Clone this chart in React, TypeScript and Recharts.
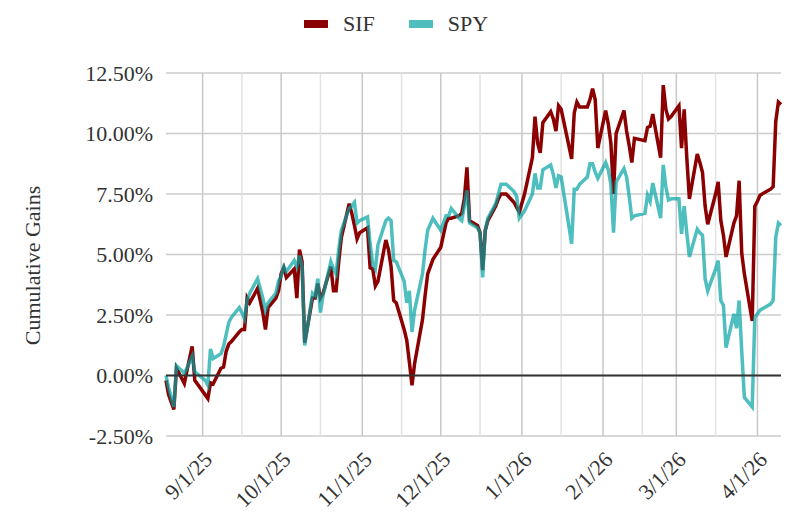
import React from 'react';
import { LineChart, Line, XAxis, YAxis, CartesianGrid, ReferenceLine } from 'recharts';

const FONT = "'Liberation Serif', 'Times New Roman', serif";
const TEXT = '#333333';
const SIF_COLOR = '#8b0000';
const SPY_COLOR = '#03a3a3';

// trading days
const DATES = [
  '8/18/25', '8/19/25', '8/20/25', '8/21/25', '8/22/25', '8/25/25', '8/26/25', '8/27/25', '8/28/25', '8/29/25',
  '9/2/25', '9/3/25', '9/4/25', '9/5/25', '9/8/25', '9/9/25', '9/10/25', '9/11/25', '9/12/25',
  '9/15/25', '9/16/25', '9/17/25', '9/18/25', '9/19/25', '9/22/25', '9/23/25', '9/24/25', '9/25/25', '9/26/25',
  '9/29/25', '9/30/25',
  '10/1/25', '10/2/25', '10/3/25', '10/6/25', '10/7/25', '10/8/25', '10/9/25', '10/10/25',
  '10/13/25', '10/14/25', '10/15/25', '10/16/25', '10/17/25', '10/20/25', '10/21/25', '10/22/25', '10/23/25', '10/24/25',
  '10/27/25', '10/28/25', '10/29/25', '10/30/25', '10/31/25',
  '11/3/25', '11/4/25', '11/5/25', '11/6/25', '11/7/25', '11/10/25', '11/11/25', '11/12/25', '11/13/25', '11/14/25',
  '11/17/25', '11/18/25', '11/19/25', '11/20/25', '11/21/25', '11/24/25', '11/25/25', '11/26/25', '11/28/25',
  '12/1/25', '12/2/25', '12/3/25', '12/4/25', '12/5/25', '12/8/25', '12/9/25', '12/10/25', '12/11/25', '12/12/25',
  '12/15/25', '12/16/25', '12/17/25', '12/18/25', '12/19/25', '12/22/25', '12/23/25', '12/24/25', '12/26/25',
  '12/29/25', '12/30/25', '12/31/25',
  '1/2/26', '1/5/26', '1/6/26', '1/7/26', '1/8/26', '1/9/26', '1/12/26', '1/13/26', '1/14/26', '1/15/26', '1/16/26',
  '1/20/26', '1/21/26', '1/22/26', '1/23/26', '1/26/26', '1/27/26', '1/28/26', '1/29/26', '1/30/26',
  '2/2/26', '2/3/26', '2/4/26', '2/5/26', '2/6/26', '2/9/26', '2/10/26', '2/11/26', '2/12/26', '2/13/26',
  '2/17/26', '2/18/26', '2/19/26', '2/20/26', '2/23/26', '2/24/26', '2/25/26', '2/26/26', '2/27/26',
  '3/2/26', '3/3/26', '3/4/26', '3/5/26', '3/6/26', '3/9/26', '3/10/26', '3/11/26', '3/12/26', '3/13/26',
  '3/16/26', '3/17/26', '3/18/26', '3/19/26', '3/20/26', '3/23/26', '3/24/26', '3/25/26', '3/26/26', '3/27/26',
  '3/30/26', '3/31/26', '4/1/26', '4/2/26', '4/6/26', '4/7/26', '4/8/26', '4/9/26', '4/10/26',
];

// cumulative gains, %
const SIF = [
  -0.2, -0.8, -1.1, -1.4, 0.3, -0.33, 0.2, 0.7, 1.2, -0.2,
  -0.8, -0.95, -0.3, -0.35, 0.3, 0.35, 1.0, 1.3, 1.4,
  1.8, 1.9, 1.9, 3.2, 3.0, 3.6, 3.1, 2.6, 1.9, 2.8,
  3.2, 3.5,
  4.2, 4.45, 4.05, 4.4, 3.2, 5.2, 4.7, 1.36,
  3.2, 3.2, 3.8, 3.2, 3.4, 4.5, 3.5, 3.5, 4.7, 5.7,
  7.1, 6.7, 6.2, 5.65, 5.9,
  6.1, 4.45, 4.4, 3.7, 3.9, 5.6, 5.2, 4.5, 3.1, 3.0,
  1.9, 1.45, 0.55, -0.4, 0.5, 2.3, 3.3, 4.2, 4.8,
  5.3, 5.8, 6.3, 6.5, 6.5, 6.6, 6.7, 7.3, 8.6, 6.4,
  6.2, 5.9, 4.35, 6.0, 6.4, 7.0, 7.3, 7.5, 7.5,
  7.15, 6.95, 6.75,
  7.5, 9.0, 10.7, 9.6, 9.2, 10.45, 10.9, 10.6, 10.1, 11.15, 11.0,
  8.95, 10.85, 11.3, 11.1, 11.1, 11.4, 11.85, 11.4, 9.4,
  10.95, 10.4, 9.6, 7.5, 10.0, 10.95, 10.1, 9.5, 8.8, 9.8,
  9.7, 10.25, 10.3, 10.8, 9.0, 12.0, 11.0, 10.6, 10.7,
  11.15, 9.4, 11.0, 9.0, 7.3, 9.15, 8.8, 8.4, 7.0, 6.25,
  7.5, 8.0, 6.4, 5.8, 4.9, 6.3, 6.6, 8.05, 5.05, 4.2,
  2.25, 7.0, 7.2, 7.45, 7.7, 7.8, 10.5, 11.3, 11.2,
];

const SPY = [
  0.0, -0.5, -0.9, -1.3, 0.4, 0.1, 0.3, 0.55, 0.8, 0.15,
  -0.2, -0.4, 1.1, 0.7, 0.9, 1.2, 1.7, 2.2, 2.4,
  2.8, 2.6, 2.35, 3.1, 3.4, 4.0, 3.6, 3.2, 2.7, 3.0,
  3.4, 3.9,
  4.1, 4.5, 4.3, 4.75, 4.5, 4.95, 4.5, 1.24,
  3.4, 3.3, 4.0, 2.6, 3.3, 4.7, 4.4, 4.2, 5.2, 6.0,
  6.9, 7.0, 7.15, 6.3, 6.4,
  6.55, 5.45, 4.6, 4.4, 5.4, 6.4, 6.5, 6.4, 4.75, 4.7,
  3.9, 3.0, 3.5, 1.8, 2.7, 4.2, 5.2, 6.0, 6.5,
  6.0, 6.3, 6.6, 6.6, 6.9, 6.5, 6.4, 7.0, 7.65, 6.3,
  6.1, 5.9, 4.05, 6.0, 6.5, 7.1, 7.5, 7.9, 7.9,
  7.6, 7.4, 6.5,
  6.8, 7.5, 8.35, 7.75, 7.75, 8.5, 8.7, 8.3, 7.75, 8.25, 8.2,
  5.45, 7.7, 7.7, 7.9, 8.2, 8.75, 8.75, 8.4, 8.15,
  8.8, 8.5, 7.9, 5.9, 8.0, 8.55, 8.2, 7.4, 6.5, 6.6,
  6.7, 7.45, 7.2, 7.95, 6.5, 8.7, 7.8, 7.25, 7.3,
  7.3, 5.85, 7.0, 5.9, 4.9, 6.05, 5.9, 5.8, 4.0, 3.5,
  4.4, 4.75, 3.1, 2.9, 1.15, 2.55, 1.95, 3.1, 1.0, -0.9,
  -1.3, 2.4, 2.55, 2.7, 2.95, 3.1, 5.7, 6.3, 6.2,
];

const MONTH_TICKS = ['9/1/25', '10/1/25', '11/1/25', '12/1/25', '1/1/26', '2/1/26', '3/1/26', '4/1/26'];
const MID_MONTHS = ['9/16/25', '10/16/25', '11/16/25', '12/16/25', '1/16/26', '2/16/26', '3/16/26'];
const Y_TICKS = [-2.5, 0, 2.5, 5, 7.5, 10, 12.5];

const toTime = (s: string) => {
  const [m, d, y] = s.split('/').map(Number);
  return Date.UTC(2000 + y, m - 1, d);
};
const T0 = toTime(DATES[0]);
const toDay = (s: string) => Math.round((toTime(s) - T0) / 86400000);

const data = DATES.map((d, i) => ({ day: toDay(d), sif: SIF[i], spy: SPY[i] }));
const monthDays = MONTH_TICKS.map(toDay);
const midDays = MID_MONTHS.map(toDay);
const lastDay = toDay(DATES[DATES.length - 1]);

const labelOf = (day: number) => MONTH_TICKS[monthDays.indexOf(day)] ?? '';

// vertical grid positions through the x scale
const gridAt = (days: number[]) => ({ xAxis, offset }: any) =>
  days.map((d) =>
    xAxis && typeof xAxis.scale === 'function'
      ? xAxis.scale(d)
      : offset.left + (d / lastDay) * offset.width
  );

const DateTick = ({ x, y, payload }: any) => (
  <text
    transform={`translate(${x + 11},${y + 25}) rotate(-45)`}
    textAnchor="end"
    fill={TEXT}
    fontSize={22}
    fontFamily={FONT}
  >
    {labelOf(payload.value)}
  </text>
);

const AxisTitle = ({ viewBox }: any) => {
  const cy = viewBox.y + viewBox.height / 2 + 11;
  return (
    <text
      x={32}
      y={cy}
      transform={`rotate(-90 32 ${cy})`}
      textAnchor="middle"
      dominantBaseline="central"
      fill={TEXT}
      fontSize={22}
      fontFamily={FONT}
    >
      Cumulative Gains
    </text>
  );
};

const LegendItem = ({ color, opacity, label, gap }: any) => (
  <div style={{ display: 'flex', alignItems: 'center', marginRight: gap }}>
    <div style={{ width: 24, height: 8, background: color, opacity, marginRight: 15 }} />
    <span>{label}</span>
  </div>
);

export default function App() {
  return (
    <div style={{ position: 'absolute', left: 0, top: 0, width: 798, height: 521, background: '#fff', fontFamily: FONT }}>
      <div
        style={{
          position: 'absolute',
          left: 304,
          top: 13,
          height: 22,
          display: 'flex',
          alignItems: 'center',
          fontSize: 22,
          lineHeight: '22px',
          color: TEXT,
        }}
      >
        <LegendItem color={SIF_COLOR} opacity={1} label="SIF" gap={34} />
        <LegendItem color={SPY_COLOR} opacity={0.7} label="SPY" gap={0} />
      </div>
      <LineChart width={798} height={521} data={data} margin={{ top: 73, right: 17, bottom: 0, left: 0 }}>
        <CartesianGrid horizontal vertical={false} stroke="#cccccc" strokeWidth={1.3} />
        <CartesianGrid
          horizontal={false}
          vertical
          stroke="#e3e3e3"
          strokeWidth={1.5}
          verticalCoordinatesGenerator={gridAt(midDays)}
        />
        <CartesianGrid
          horizontal={false}
          vertical
          stroke="#c8c8c8"
          strokeWidth={1.5}
          verticalCoordinatesGenerator={gridAt(monthDays)}
        />
        <XAxis
          type="number"
          dataKey="day"
          domain={[0, lastDay]}
          ticks={monthDays}
          interval={0}
          height={85}
          axisLine={false}
          tickLine={false}
          tickSize={0}
          tickMargin={0}
          tick={<DateTick />}
        />
        <YAxis
          type="number"
          domain={[-2.5, 12.5]}
          ticks={Y_TICKS}
          interval={0}
          width={166}
          axisLine={false}
          tickLine={false}
          tickSize={0}
          tickMargin={13}
          tickFormatter={(v: number) => `${v.toFixed(2)}%`}
          tick={{ fill: TEXT, fontSize: 22, fontFamily: FONT }}
          label={<AxisTitle />}
        />
        <Line
          type="linear"
          dataKey="sif"
          name="SIF"
          stroke={SIF_COLOR}
          strokeWidth={3.5}
          dot={false}
          activeDot={false}
          isAnimationActive={false}
        />
        <Line
          type="linear"
          dataKey="spy"
          name="SPY"
          stroke={SPY_COLOR}
          strokeOpacity={0.7}
          strokeWidth={3.5}
          dot={false}
          activeDot={false}
          isAnimationActive={false}
        />
        <ReferenceLine y={0} stroke="#333333" strokeWidth={2} />
      </LineChart>
    </div>
  );
}
